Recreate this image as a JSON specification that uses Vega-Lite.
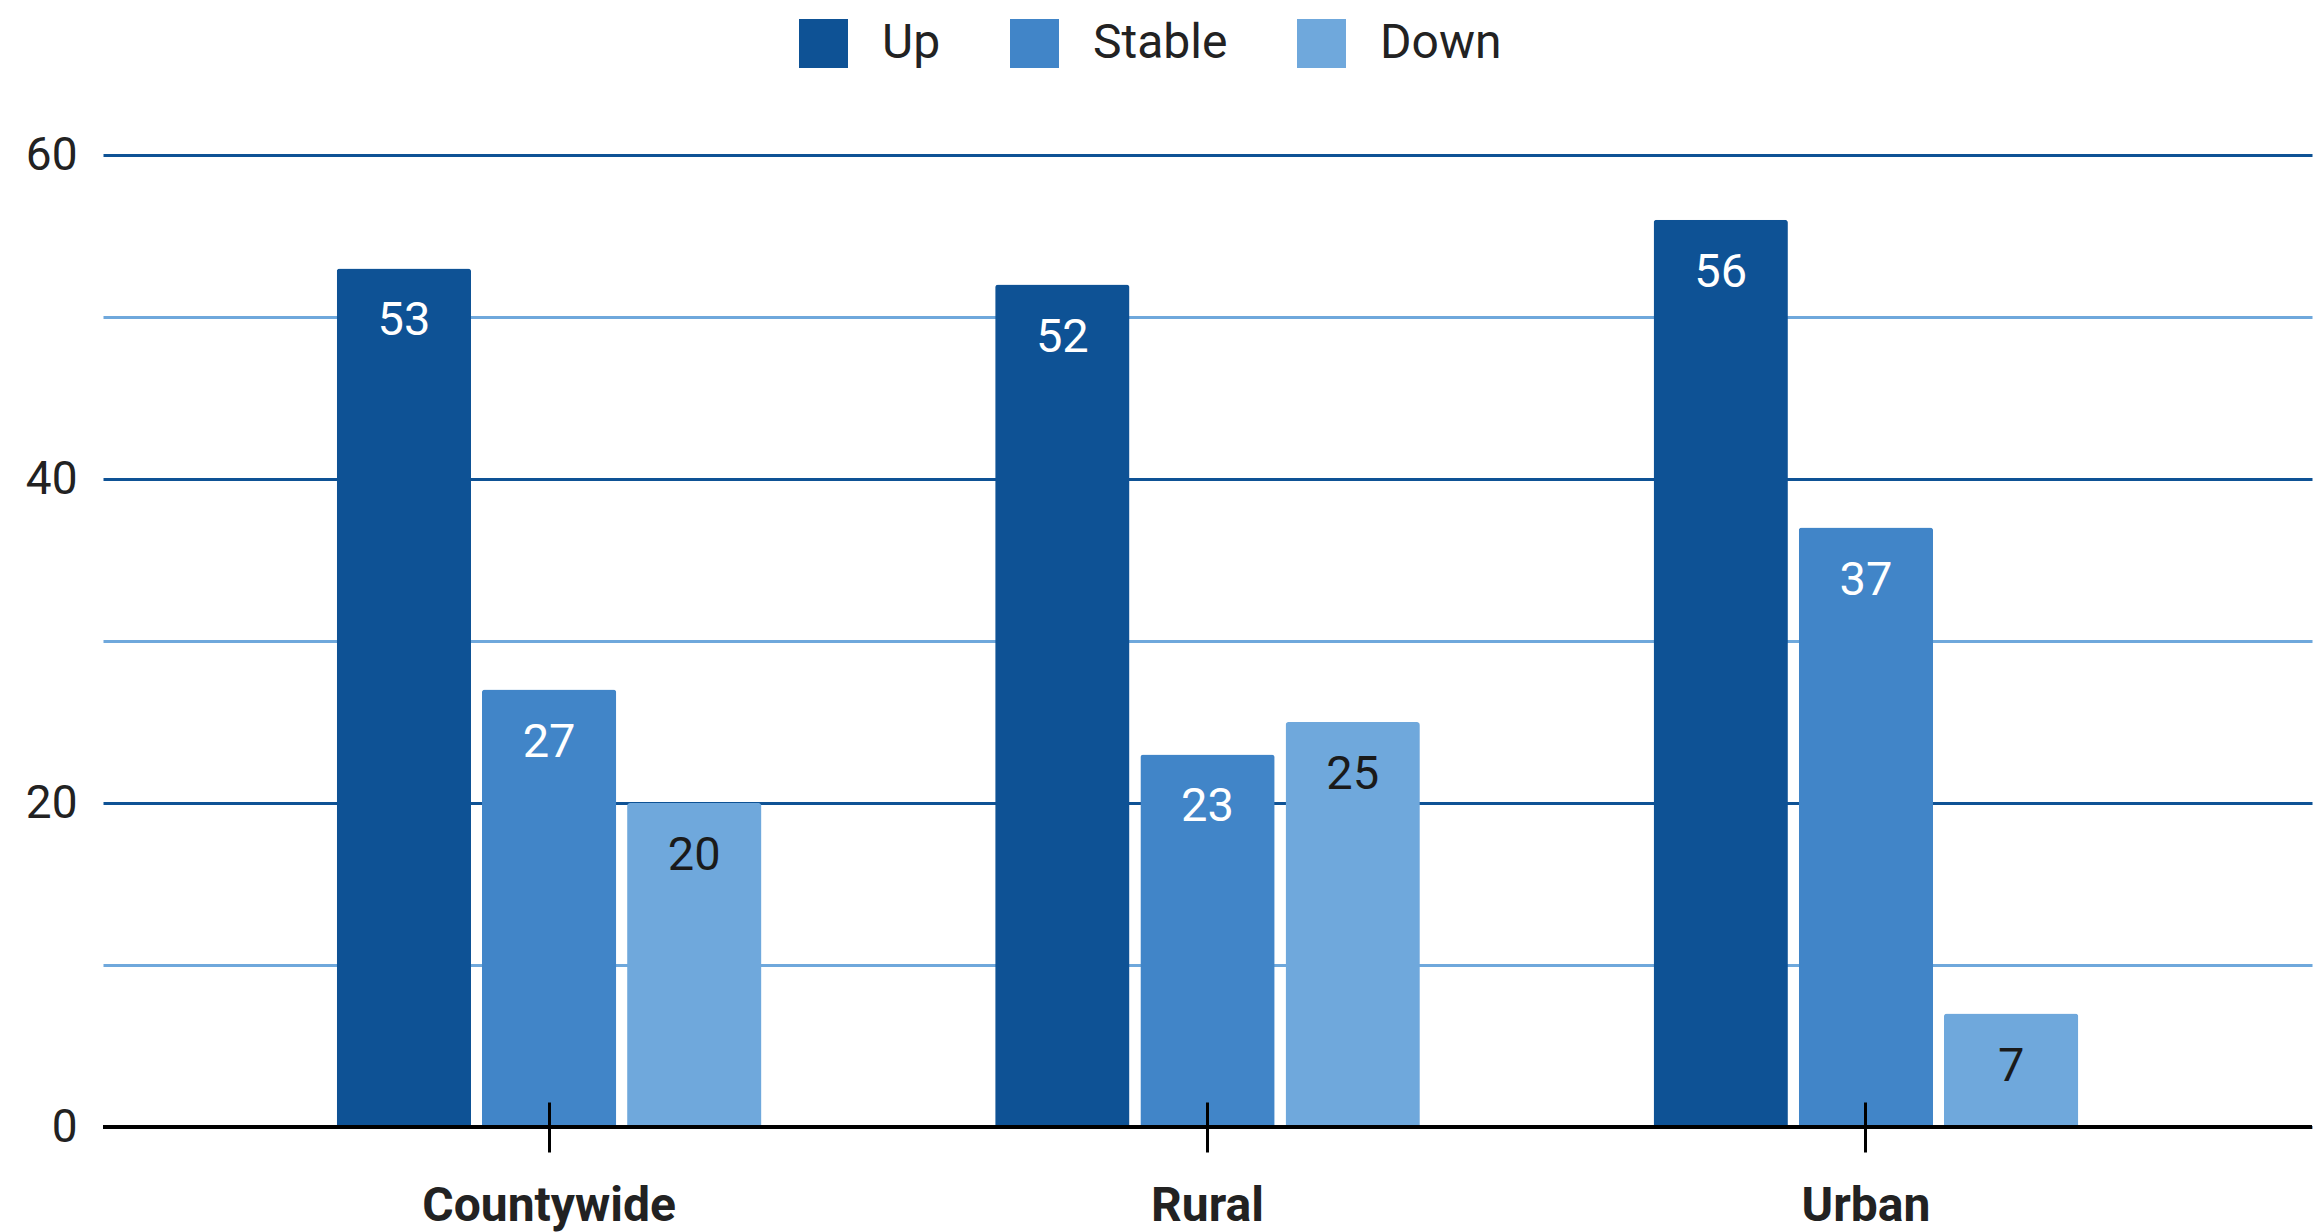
{
  "$schema": "https://vega.github.io/schema/vega-lite/v6.json",
  "width": 2209,
  "height": 972,
  "autosize": {"type": "none"},
  "padding": {"left": 103, "top": 155, "right": 12, "bottom": 105},
  "background": "white",
  "config": {"view": {"stroke": null}, "font": "Roboto"},
  "data": {
    "values": [
      {"region": "Countywide", "status": "Up", "value": 53},
      {"region": "Countywide", "status": "Stable", "value": 27},
      {"region": "Countywide", "status": "Down", "value": 20},
      {"region": "Rural", "status": "Up", "value": 52},
      {"region": "Rural", "status": "Stable", "value": 23},
      {"region": "Rural", "status": "Down", "value": 25},
      {"region": "Urban", "status": "Up", "value": 56},
      {"region": "Urban", "status": "Stable", "value": 37},
      {"region": "Urban", "status": "Down", "value": 7}
    ]
  },
  "layer": [
    {
      "mark": {"type": "bar", "cornerRadiusTopLeft": 3, "cornerRadiusTopRight": 3},
      "encoding": {
        "x": {
          "field": "region", "type": "nominal", "sort": ["Countywide", "Rural", "Urban"],
          "scale": {"paddingInner": 0.355, "paddingOuter": 0.355},
          "axis": {"title": null, "domain": false, "ticks": true, "tickSize": 50, "tickWidth": 3, "tickColor": "black", "offset": -25, "labelPadding": 30, "labelLimit": 0, "labelFontSize": 48, "labelFontWeight": "bold", "labelColor": "#222222", "labelAngle": 0, "grid": false, "zindex": 2}
        },
        "xOffset": {"field": "status", "type": "nominal", "sort": ["Up", "Stable", "Down"], "scale": {"paddingInner": 0.075}},
        "y": {
          "field": "value", "type": "quantitative",
          "scale": {"domain": [0, 60], "nice": false},
          "axis": {"title": null, "values": [0, 10, 20, 30, 40, 50, 60], "labelExpr": "datum.value % 20 === 0 ? datum.label : ''", "domain": false, "ticks": false, "tickSize": 0, "labelPadding": 26, "labelFontSize": 46, "labelColor": "#222222", "grid": true, "gridWidth": 3, "gridColor": {"condition": {"test": "datum.value % 20 === 0", "value": "#0e5295"}, "value": "#6fa8dc"}}
        },
        "color": {
          "field": "status", "type": "nominal", "sort": ["Up", "Stable", "Down"],
          "scale": {"domain": ["Up", "Stable", "Down"], "range": ["#0e5295", "#4185c8", "#6fa8dc"]},
          "legend": {"title": null, "orient": "none", "legendX": 696, "legendY": -136, "direction": "horizontal", "symbolType": "square", "symbolSize": 2400, "symbolStrokeWidth": 0, "symbolOpacity": 1, "labelFontSize": 48, "labelOffset": 34, "columnPadding": 69, "labelColor": "#222222"}
        }
      }
    },
    {
      "mark": {"type": "text", "baseline": "middle", "dy": 53, "fontSize": 47},
      "encoding": {
        "x": {"field": "region", "type": "nominal", "sort": ["Countywide", "Rural", "Urban"]},
        "xOffset": {"field": "status", "type": "nominal", "sort": ["Up", "Stable", "Down"]},
        "y": {"field": "value", "type": "quantitative"},
        "text": {"field": "value", "type": "quantitative"},
        "color": {"condition": {"test": "datum.status === 'Down'", "value": "#1a1a1a"}, "value": "#ffffff"}
      }
    },
    {
      "mark": {"type": "rule", "color": "black", "strokeWidth": 4},
      "encoding": {"y": {"datum": 0, "type": "quantitative"}}
    }
  ]
}
